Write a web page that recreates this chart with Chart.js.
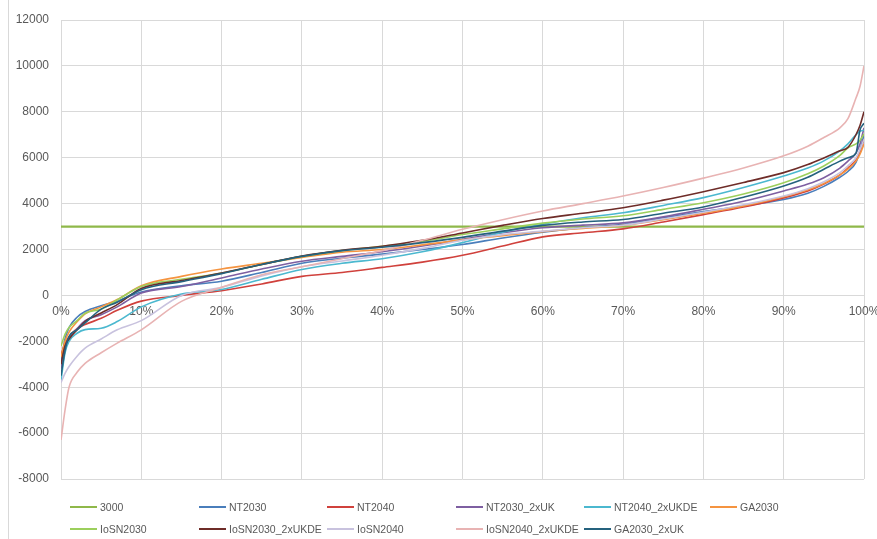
<!DOCTYPE html>
<html><head><meta charset="utf-8">
<script src="https://cdn.jsdelivr.net/npm/chart.js@4.4.0/dist/chart.umd.min.js"></script>
<style>
html,body{margin:0;padding:0;background:#fff;}
#wrap{position:relative;width:877px;height:539px;overflow:hidden;background:#fff;}
#border{position:absolute;left:8px;top:0;width:0;height:539px;border-left:1px solid #d9d9d9;}
canvas{position:absolute;left:0;top:0;}
#legend{position:absolute;left:0;top:0;font-family:"Liberation Sans",Arial,sans-serif;font-size:10.5px;color:#595959;}
.item{position:absolute;height:14px;line-height:14px;white-space:nowrap;}
.swatch{display:inline-block;width:27px;height:2px;vertical-align:middle;margin-right:3px;position:relative;top:-1px;}
</style></head><body>
<div id="wrap"><canvas id="c" width="877" height="539"></canvas><div id="border"></div><div id="legend"></div></div>
<script>
// ---- data ----
const xPercent = [0,0.5,1,2,3,5,7,10,15,20,25,30,35,40,45,50,55,60,65,70,75,80,85,90,93,95,97,98,99,99.5,100];
const thresholdX = [0,100];
const threshold3000 = [3000,3000];
const NT2030 = [-2900,-1900,-1400,-950,-700,-450,-250,150,420,620,1000,1400,1620,1800,2000,2220,2500,2750,2950,3100,3380,3650,3900,4180,4450,4750,5150,5400,5800,6300,7000];
const NT2040 = [-2600,-2100,-1800,-1450,-1270,-1000,-650,-250,0,200,500,830,1000,1220,1450,1750,2150,2550,2730,2900,3200,3520,3850,4250,4550,4850,5250,5550,5900,6250,6800];
const NT2030_2xUK = [-3200,-2400,-1900,-1450,-1100,-840,-500,100,390,760,1150,1490,1700,1900,2150,2440,2730,2950,3060,3160,3420,3750,4100,4550,4850,5130,5550,5850,6200,6600,7300];
const NT2040_2xUKDE = [-3700,-2500,-2000,-1650,-1490,-1430,-1140,-500,60,260,700,1130,1400,1600,1900,2300,2750,3100,3380,3600,3920,4260,4700,5200,5550,5860,6300,6600,7000,7150,7200];
const GA2030 = [-2700,-2000,-1600,-1150,-800,-500,-180,420,830,1150,1400,1650,1880,2000,2200,2420,2600,2780,2920,3050,3300,3580,3900,4300,4600,4880,5250,5500,5850,6150,6600];
const IoSN2030 = [-2200,-1700,-1400,-1100,-780,-600,-200,390,700,975,1350,1700,1950,2140,2350,2650,2900,3150,3330,3470,3750,4040,4420,4910,5300,5640,6100,6430,6600,6750,7040];
const IoSN2030_2xUKDE = [-3000,-2200,-1900,-1500,-1140,-770,-400,300,650,975,1350,1720,1970,2140,2400,2720,3050,3350,3580,3820,4150,4520,4920,5350,5700,5990,6300,6450,7000,7400,8000];
const IoSN2040 = [-3800,-3400,-3100,-2650,-2300,-1900,-1500,-1100,0,350,850,1250,1500,1750,2050,2400,2650,2800,2950,3060,3330,3620,3950,4330,4650,4950,5350,5650,6000,6350,6800];
const IoSN2040_2xUKDE = [-6300,-5000,-4000,-3350,-2960,-2500,-2080,-1500,-260,350,900,1250,1600,1950,2400,2880,3300,3680,4000,4330,4700,5110,5550,6080,6500,6880,7300,7700,8600,9100,10000];
const GA2030_2xUK = [-3500,-2400,-1800,-1500,-1200,-600,-300,250,600,950,1350,1700,1950,2100,2300,2530,2800,3050,3200,3310,3580,3850,4280,4770,5150,5500,5850,6000,6200,7200,7500];
const yTicks = [-8000,-6000,-4000,-2000,0,2000,4000,6000,8000,10000,12000];
const xTicks = [0,10,20,30,40,50,60,70,80,90,100];

const seriesNames = ['3000','NT2030','NT2040','NT2030_2xUK','NT2040_2xUKDE','GA2030','IoSN2030','IoSN2030_2xUKDE','IoSN2040','IoSN2040_2xUKDE','GA2030_2xUK'];
const seriesValues = [threshold3000,NT2030,NT2040,NT2030_2xUK,NT2040_2xUKDE,GA2030,IoSN2030,IoSN2030_2xUKDE,IoSN2040,IoSN2040_2xUKDE,GA2030_2xUK];
const seriesColors = ['#8fb84a','#4a7ebb','#d0413c','#7e5fa1','#4bb8cf','#f59440','#9ccf5c','#6e2c28','#c8c2de','#e8b3b3','#25627e'];

const FONT = '"Liberation Sans", Arial, sans-serif';
const n = seriesNames.length;
const datasets = seriesNames.map((name,i)=>{
  const xs = i===0 ? thresholdX : xPercent;
  return {
    label:name,
    data: seriesValues[i].map((v,k)=>({x:xs[k], y:v})),
    borderColor: seriesColors[i],
    backgroundColor: seriesColors[i],
    borderWidth: (i===0)?2.2:1.6,
    pointRadius:0,
    fill:false,
    cubicInterpolationMode:'monotone',
    order: n - i
  };
});

new Chart(document.getElementById('c').getContext('2d'), {
  type:'line',
  data:{datasets},
  options:{
    responsive:false,
    animation:false,
    layout:{padding:{left:0,right:13,top:20,bottom:60}},
    plugins:{legend:{display:false},tooltip:{enabled:false}},
    scales:{
      x:{
        type:'linear', min:0, max:100,
        position:{y:0},
        afterBuildTicks(s){ s.ticks = xTicks.map(v=>({value:v})); },
        afterFit(s){ s.paddingLeft = 0; s.paddingRight = 0; },
        ticks:{callback:v=>v+'%', padding:9, color:'#595959', font:{family:FONT,size:12}, maxRotation:0, autoSkip:false},
        grid:{color:'#d9d9d9', drawTicks:false, lineWidth:1},
        border:{color:'#d9d9d9'}
      },
      y:{
        min:-8000, max:12000,
        afterBuildTicks(s){ s.ticks = yTicks.map(v=>({value:v})); },
        afterFit(s){ s.width = 61; },
        ticks:{callback:v=>String(v), padding:12, color:'#595959', font:{family:FONT,size:12}},
        grid:{color:'#d9d9d9', drawTicks:false, lineWidth:1},
        border:{display:false}
      }
    }
  }
});

// ---- legend (HTML text) ----
const legendCols = [70,199,327,456,584,710];
const legendRows = [507,529];
const leg = document.getElementById('legend');
seriesNames.forEach((name,i)=>{
  const row = i<6 ? 0 : 1;
  const col = i<6 ? i : i-6;
  const d = document.createElement('div');
  d.className='item';
  d.style.left = legendCols[col]+'px';
  d.style.top = (legendRows[row]-7)+'px';
  const sw = document.createElement('span');
  sw.className='swatch';
  sw.style.background = seriesColors[i];
  d.appendChild(sw);
  d.appendChild(document.createTextNode(name));
  leg.appendChild(d);
});
</script>
</body></html>
